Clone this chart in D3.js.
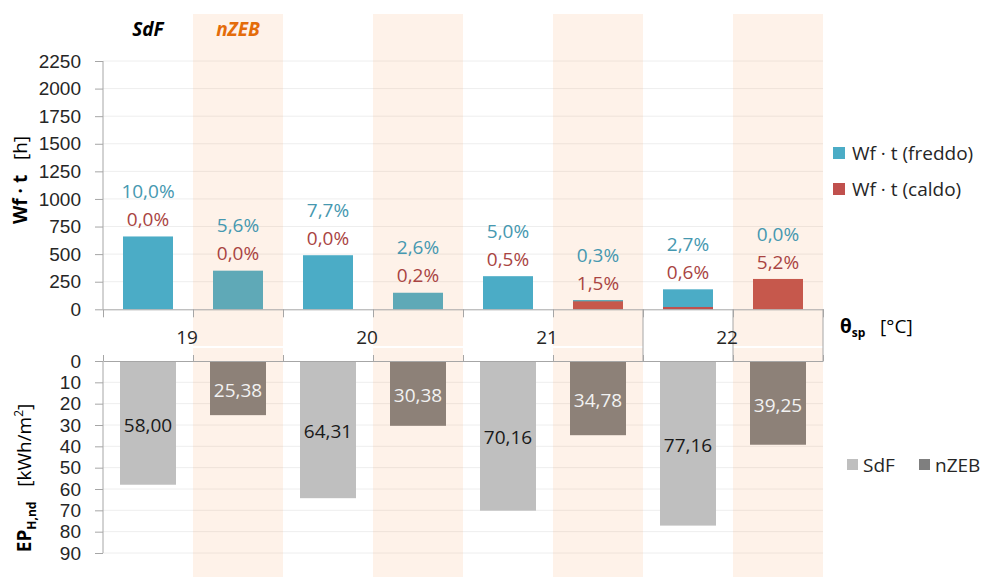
<!DOCTYPE html>
<html>
<head>
<meta charset="utf-8">
<script src="https://cdn.jsdelivr.net/npm/d3@7"></script>
<style>
  body { margin: 0; background: #fff; }
  svg { font-family: "Open Sans", "Noto Sans", sans-serif; }
  .axis path, .axis line { stroke: #a6a6a6; }
  .axis text { fill: #262626; font-size: 19px; }
</style>
</head>
<body>
<div class="chart"></div>
<script>
// DATA
const SETPOINTS = ["19", "20", "21", "22"];
const BUILDINGS = ["SdF", "nZEB"];
// one value per (setpoint, building) pair: 19-SdF, 19-nZEB, 20-SdF, ...
const HOURS_FREDDO = [660, 350, 490, 150, 300, 84, 181, 0];
const HOURS_CALDO = [0, 0, 0, 0, 0, 72, 21, 275];
const PCT_FREDDO = [10.0, 5.6, 7.7, 2.6, 5.0, 0.3, 2.7, 0.0];
const PCT_CALDO = [0.0, 0.0, 0.0, 0.2, 0.5, 1.5, 0.6, 5.2];
const EP_H_ND = [58.00, 25.38, 64.31, 30.38, 70.16, 34.78, 77.16, 39.25];
const WF_TICKS = [0, 250, 500, 750, 1000, 1250, 1500, 1750, 2000, 2250];
const EP_TICKS = [0, 10, 20, 30, 40, 50, 60, 70, 80, 90];

// CONSTANTS
const FRAME_WIDTH = 985;
const FRAME_HEIGHT = 577;
const X_LEFT = 103, X_RIGHT = 823;
const TOP = {y0: 309.3, y1: 61};
const BOT = {y0: 361, y1: 553};
const FONT = "19px";

const COLORS = {
  freddo: "#4bacc6", caldo: "#c0504d",
  freddoText: "#4698b0", caldoText: "#a94442",
  sdf: "#bfbfbf", nzeb: "#7f7f7f", band: "#f79646", grid: "#eeeeee"
};

const IT = d3.formatLocale({decimal: ",", thousands: ".", grouping: [3], currency: ["", "€"]});
const FMT_PCT = (v) => IT.format(".1f")(v) + "%";
const FMT_EP = IT.format(".2f");

const KEYS = [];
SETPOINTS.forEach((s) => BUILDINGS.forEach((b) => KEYS.push(s + "-" + b)));

const data = KEYS.map((k, i) => ({
  key: k, sp: k.split("-")[0], building: k.split("-")[1],
  freddo: HOURS_FREDDO[i], caldo: HOURS_CALDO[i],
  pf: PCT_FREDDO[i], pc: PCT_CALDO[i], ep: EP_H_ND[i]
}));

const SVG = d3.select(".chart")
  .append("svg")
    .attr("width", FRAME_WIDTH)
    .attr("height", FRAME_HEIGHT);

// SCALES
const X_TOP = d3.scaleBand().domain(KEYS).range([X_LEFT, X_RIGHT])
  .paddingInner(40 / 90).paddingOuter(20 / 90);
const X_BOT = d3.scaleBand().domain(KEYS).range([X_LEFT, X_RIGHT])
  .paddingInner(34 / 90).paddingOuter(17 / 90);
const X_EDGE = d3.scaleLinear().domain([0, KEYS.length]).range([X_LEFT, X_RIGHT]);

const Y_WF = d3.scaleLinear().domain([0, 2250]).range([TOP.y0, TOP.y1]);
const Y_EP = d3.scaleLinear().domain([0, 90]).range([BOT.y0, BOT.y1]);

// GRIDLINES
SVG.append("g").selectAll("line")
  .data(WF_TICKS.slice(1)).enter().append("line")
    .attr("x1", X_LEFT).attr("x2", X_RIGHT)
    .attr("y1", (d) => Y_WF(d)).attr("y2", (d) => Y_WF(d))
    .attr("stroke", COLORS.grid);

SVG.append("g").selectAll("line")
  .data(EP_TICKS.slice(1)).enter().append("line")
    .attr("x1", X_LEFT).attr("x2", X_RIGHT)
    .attr("y1", (d) => Y_EP(d)).attr("y2", (d) => Y_EP(d))
    .attr("stroke", COLORS.grid);

// TOP BARS (caldo drawn in front of freddo)
SVG.append("g").selectAll("rect")
  .data(data.filter((d) => d.freddo > 0)).enter().append("rect")
    .attr("x", (d) => X_TOP(d.key))
    .attr("width", X_TOP.bandwidth())
    .attr("y", (d) => Y_WF(d.freddo))
    .attr("height", (d) => Y_WF(0) - Y_WF(d.freddo))
    .attr("fill", COLORS.freddo);

SVG.append("g").selectAll("rect")
  .data(data.filter((d) => d.caldo > 0)).enter().append("rect")
    .attr("x", (d) => X_TOP(d.key))
    .attr("width", X_TOP.bandwidth())
    .attr("y", (d) => Y_WF(d.caldo))
    .attr("height", (d) => Y_WF(0) - Y_WF(d.caldo))
    .attr("fill", COLORS.caldo);

// BOTTOM BARS
SVG.append("g").selectAll("rect")
  .data(data).enter().append("rect")
    .attr("x", (d) => X_BOT(d.key))
    .attr("width", X_BOT.bandwidth())
    .attr("y", Y_EP(0))
    .attr("height", (d) => Y_EP(d.ep) - Y_EP(0))
    .attr("fill", (d) => d.building === "SdF" ? COLORS.sdf : COLORS.nzeb);

// nZEB HIGHLIGHT BANDS (semi-transparent, over the bars)
const nzeb = data.filter((d) => d.building === "nZEB");
const bandX = (d) => X_EDGE(KEYS.indexOf(d.key));
SVG.append("g").selectAll("rect")
  .data(nzeb).enter().append("rect")
    .attr("x", bandX).attr("width", X_EDGE(1) - X_EDGE(0))
    .attr("y", 14).attr("height", 346 - 14)
    .attr("fill", COLORS.band).attr("opacity", 0.12);
SVG.append("g").selectAll("rect")
  .data(nzeb).enter().append("rect")
    .attr("x", bandX).attr("width", X_EDGE(1) - X_EDGE(0))
    .attr("y", 348).attr("height", FRAME_HEIGHT - 348)
    .attr("fill", COLORS.band).attr("opacity", 0.12);

// AXES
SVG.append("g").attr("class", "axis")
  .attr("transform", "translate(" + X_LEFT + ",0)")
  .call(d3.axisLeft(Y_WF).tickValues(WF_TICKS).tickFormat(d3.format("d"))
    .tickSize(8).tickSizeOuter(0).tickPadding(14))
  .call((g) => g.select(".domain").attr("d", "M0," + TOP.y0 + "V" + TOP.y1));

SVG.append("g").attr("class", "axis")
  .attr("transform", "translate(" + X_LEFT + ",0)")
  .call(d3.axisLeft(Y_EP).tickValues(EP_TICKS).tickFormat(d3.format("d"))
    .tickSize(8).tickSizeOuter(0).tickPadding(14))
  .call((g) => g.select(".domain").attr("d", "M0," + BOT.y0 + "V" + BOT.y1));

SVG.append("g").attr("class", "axis")
  .attr("transform", "translate(0," + TOP.y0 + ")")
  .call(d3.axisBottom(X_EDGE).ticks(KEYS.length).tickSize(8).tickSizeOuter(0).tickFormat(""));

SVG.append("g").attr("class", "axis")
  .attr("transform", "translate(0," + BOT.y0 + ")")
  .call(d3.axisTop(X_EDGE).ticks(KEYS.length).tickSize(6).tickSizeOuter(0).tickFormat(""));

// separators at the right end of the category strip
SVG.append("g").selectAll("line")
  .data([6, 7, 8]).enter().append("line")
    .attr("x1", (d) => X_EDGE(d)).attr("x2", (d) => X_EDGE(d))
    .attr("y1", TOP.y0).attr("y2", BOT.y0)
    .attr("stroke", "#a6a6a6");

// CATEGORY LABELS
SVG.append("g").selectAll("text")
  .data(SETPOINTS).enter().append("text")
    .attr("x", (d, i) => X_EDGE(i * 2 + 1) - 6)
    .attr("y", 344)
    .attr("text-anchor", "middle")
    .attr("font-size", FONT)
    .attr("fill", "#262626")
    .text((d) => d);

// PERCENT LABELS
const topOf = (d) => Y_WF(Math.max(d.freddo, d.caldo));
SVG.append("g").selectAll("text")
  .data(data).enter().append("text")
    .attr("x", (d) => X_TOP(d.key) + X_TOP.bandwidth() / 2)
    .attr("y", (d) => topOf(d) - 45)
    .attr("dy", "0.35em")
    .attr("text-anchor", "middle")
    .attr("font-size", FONT)
    .attr("fill", COLORS.freddoText)
    .text((d) => FMT_PCT(d.pf));

SVG.append("g").selectAll("text")
  .data(data).enter().append("text")
    .attr("x", (d) => X_TOP(d.key) + X_TOP.bandwidth() / 2)
    .attr("y", (d) => topOf(d) - 17)
    .attr("dy", "0.35em")
    .attr("text-anchor", "middle")
    .attr("font-size", FONT)
    .attr("fill", COLORS.caldoText)
    .text((d) => FMT_PCT(d.pc));

// EP LABELS
SVG.append("g").selectAll("text")
  .data(data).enter().append("text")
    .attr("x", (d) => X_BOT(d.key) + X_BOT.bandwidth() / 2)
    .attr("y", (d) => (Y_EP(0) + Y_EP(d.ep)) / 2 + 2)
    .attr("dy", "0.35em")
    .attr("text-anchor", "middle")
    .attr("font-size", FONT)
    .attr("fill", (d) => d.building === "SdF" ? "#1a1a1a" : "#f2f2f2")
    .text((d) => FMT_EP(d.ep));

// HEADERS
SVG.append("text").attr("x", X_TOP("19-SdF") + X_TOP.bandwidth() / 2).attr("y", 36)
  .attr("text-anchor", "middle").attr("font-size", FONT)
  .attr("font-weight", "bold").attr("font-style", "italic").attr("fill", "#000")
  .text("SdF");
SVG.append("text").attr("x", X_TOP("19-nZEB") + X_TOP.bandwidth() / 2).attr("y", 36)
  .attr("text-anchor", "middle").attr("font-size", FONT)
  .attr("font-weight", "bold").attr("font-style", "italic").attr("fill", "#e46c0a")
  .text("nZEB");

// AXIS TITLES
const t1 = SVG.append("text")
  .attr("transform", "translate(27,180) rotate(-90)")
  .attr("text-anchor", "middle").attr("font-size", FONT).attr("fill", "#000");
t1.append("tspan").attr("font-weight", "bold").text("Wf · t");
t1.append("tspan").text("\u00a0\u00a0\u00a0[h]");

const t2 = SVG.append("text")
  .attr("transform", "translate(31,478) rotate(-90)")
  .attr("text-anchor", "middle").attr("font-size", FONT).attr("fill", "#000");
t2.append("tspan").attr("font-weight", "bold").text("EP");
t2.append("tspan").attr("font-weight", "bold").attr("font-size", "12px").attr("dy", 5).text("H,nd");
t2.append("tspan").attr("dy", -5).text("\u00a0\u00a0\u00a0[kWh/m");
t2.append("tspan").attr("font-size", "12px").attr("dy", -8).text("2");
t2.append("tspan").attr("dy", 8).text("]");

const t3 = SVG.append("text").attr("x", 840).attr("y", 333)
  .attr("font-size", FONT).attr("fill", "#000");
t3.append("tspan").attr("font-weight", "bold").text("θ");
t3.append("tspan").attr("font-weight", "bold").attr("font-size", "12px").attr("dy", 4).text("sp");
t3.append("tspan").attr("dy", -4).text("\u00a0\u00a0\u00a0[°C]");

// LEGENDS
const LEGEND_TOP = [
  {label: "Wf · t (freddo)", color: COLORS.freddo, y: 153},
  {label: "Wf · t (caldo)", color: COLORS.caldo, y: 189}
];
const lt = SVG.append("g").selectAll("g").data(LEGEND_TOP).enter().append("g");
lt.append("rect").attr("x", 833).attr("y", (d) => d.y - 6)
  .attr("width", 12).attr("height", 12).attr("fill", (d) => d.color);
lt.append("text").attr("x", 852).attr("y", (d) => d.y).attr("dy", "0.35em")
  .attr("font-size", FONT).attr("fill", "#262626").text((d) => d.label);

const LEGEND_BOT = [
  {label: "SdF", color: COLORS.sdf, x: 847},
  {label: "nZEB", color: COLORS.nzeb, x: 919}
];
const lb = SVG.append("g").selectAll("g").data(LEGEND_BOT).enter().append("g");
lb.append("rect").attr("x", (d) => d.x).attr("y", 459)
  .attr("width", 11).attr("height", 11).attr("fill", (d) => d.color);
lb.append("text").attr("x", (d) => d.x + 16).attr("y", 465).attr("dy", "0.35em")
  .attr("font-size", FONT).attr("fill", "#262626").text((d) => d.label);
</script>
</body>
</html>
